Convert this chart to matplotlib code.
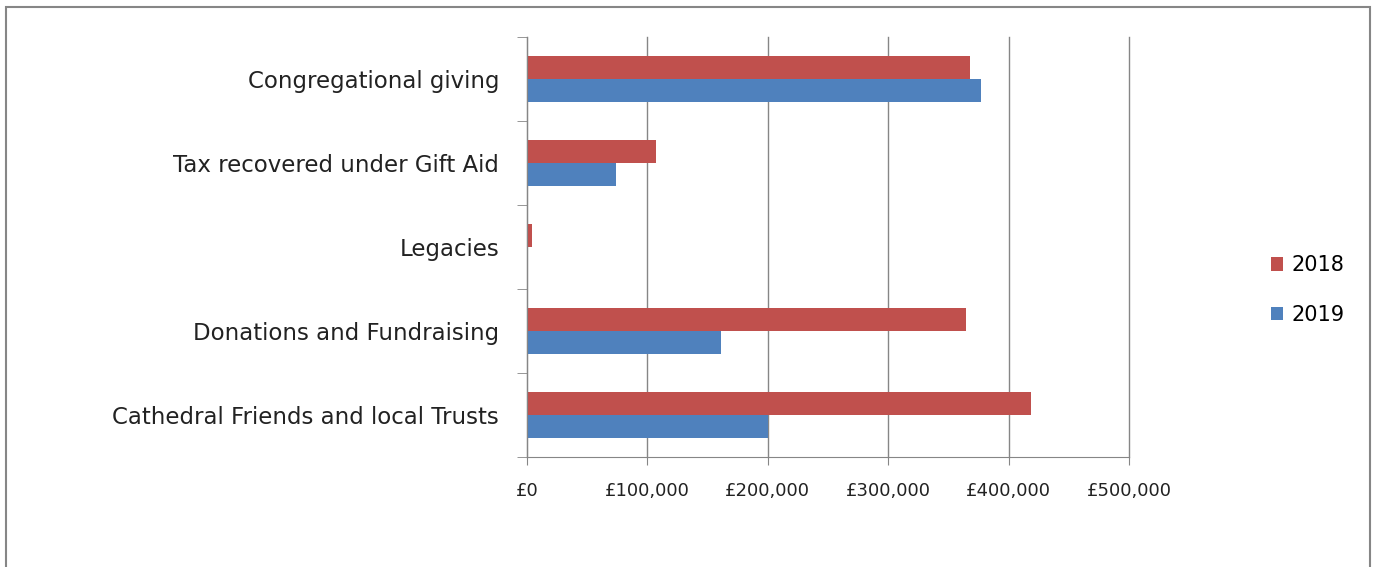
import matplotlib
matplotlib.use("Agg")
from matplotlib import pyplot as plt
from matplotlib.patches import Rectangle
from matplotlib.ticker import FuncFormatter, FixedLocator
import numpy as np

categories = ["Congregational giving", "Tax recovered under Gift Aid", "Legacies",
              "Donations and Fundraising", "Cathedral Friends and local Trusts"]
values_2018 = [368000, 107000, 4000, 365000, 419000]
values_2019 = [377000, 74000, 0, 161000, 200000]
x_ticks = [0, 100000, 200000, 300000, 400000, 500000]

red = "#C0504D"
blue = "#4F81BD"
grey = "#868686"

plt.rcParams['font.family'] = ['DejaVu Sans']

fig = plt.figure(figsize=(13.75, 5.67), dpi=100)
ax = fig.add_axes([527 / 1375, 1 - 457 / 567, (1129 - 527) / 1375, (457 - 37) / 567])

y = np.arange(len(categories))
h = 0.275
ax.barh(y - h / 2, values_2018, height=h, color=red, label="2018")
ax.barh(y + h / 2, values_2019, height=h, color=blue, label="2019")

ax.set_xlim(0, 500000)
ax.set_ylim(len(categories) - 0.5, -0.5)
ax.set_xticks(x_ticks)
ax.xaxis.set_major_formatter(FuncFormatter(lambda v, p: "£{:,.0f}".format(v)))
ax.set_yticks(y)
ax.set_yticklabels(categories, fontsize=16.5, color="#222222")
ax.yaxis.set_minor_locator(FixedLocator(np.arange(-0.5, len(categories), 1)))
ax.tick_params(axis='y', which='major', length=0, pad=20)
ax.tick_params(axis='y', which='minor', length=7, color=grey, direction='out')
ax.tick_params(axis='x', length=6, color=grey, direction='out', labelsize=13, labelcolor="#222222", pad=12)

ax.grid(True, axis='x', color=grey, linewidth=1)
for gl in ax.get_xgridlines():
    gl.set_clip_on(False)
ax.set_axisbelow(True)
for s in ['top', 'right']:
    ax.spines[s].set_visible(False)
for s in ['left', 'bottom']:
    ax.spines[s].set_color(grey)

fig.legend(loc='center left', bbox_to_anchor=(1252 / 1375, 1 - 290 / 567), frameon=False,
           fontsize=15, handlelength=0.6, handleheight=0.6, labelspacing=1.4, handletextpad=0.4)

fig.patches.append(Rectangle((6 / 1375, -0.05), (1370 - 6) / 1375, 1.05 - 7 / 567,
                             transform=fig.transFigure, fill=False, edgecolor=grey, linewidth=1.5))

fig.savefig("out.png", dpi=100)
